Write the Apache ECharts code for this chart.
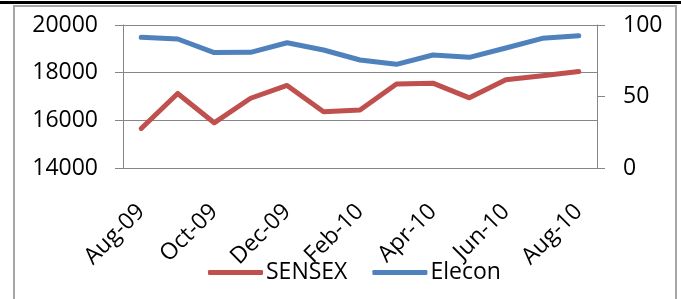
<!DOCTYPE html>
<html>
<head>
<meta charset="utf-8">
<script src="https://cdn.jsdelivr.net/npm/echarts@6/dist/echarts.min.js"></script>
<style>
html,body{margin:0;padding:0;background:#fff;}
#c{width:681px;height:299px;}
</style>
</head>
<body>
<div id="c"></div>
<script>
var categories = ['Aug-09','Sep-09','Oct-09','Nov-09','Dec-09','Jan-10','Feb-10','Mar-10','Apr-10','May-10','Jun-10','Jul-10','Aug-10'];
var sensex = [15660, 17127, 15896, 16926, 17465, 16358, 16430, 17528, 17559, 16945, 17700, 17868, 18050];
var elecon = [91.4, 90.2, 80.7, 80.9, 87.6, 82.5, 75.5, 72.5, 79.0, 77.4, 83.9, 90.7, 92.5];
var leftTicks = {min: 14000, max: 20000, interval: 2000};
var rightTicks = {min: 0, max: 100, interval: 50};

var FONT = 'Open Sans';
var GRAY = '#868686';
var chart = echarts.init(document.getElementById('c'), null, {renderer: 'canvas'});
chart.setOption({
  animation: false,
  backgroundColor: '#fff',
  textStyle: {fontFamily: FONT},
  graphic: [
    {type: 'rect', shape: {x: 0, y: 1, width: 681, height: 3}, style: {fill: '#000'}, z: 100},
    {type: 'rect', shape: {x: 14, y: 6, width: 662, height: 400}, style: {fill: 'none', stroke: '#a6a6a6', lineWidth: 2}, z: 100}
  ],
  grid: {left: 123, right: 84, top: 25, bottom: 131, containLabel: false},
  legend: {
    left: 203, top: 256,
    itemWidth: 55, itemHeight: 5, itemGap: 25,
    icon: 'roundRect',
    textStyle: {fontFamily: FONT, fontSize: 23, color: '#000', padding: [0, 0, 0, -2]},
    data: ['SENSEX', 'Elecon']
  },
  xAxis: {
    type: 'category',
    data: categories,
    boundaryGap: true,
    axisLine: {lineStyle: {color: GRAY, width: 1}},
    axisTick: {interval: 1, length: 8, lineStyle: {color: GRAY}},
    axisLabel: {interval: 1, rotate: 45, margin: 40, fontFamily: FONT, fontSize: 23, color: '#000'},
    splitLine: {show: false}
  },
  yAxis: [
    {
      type: 'value', min: leftTicks.min, max: leftTicks.max, interval: leftTicks.interval,
      axisLine: {show: true, lineStyle: {color: GRAY, width: 1}},
      axisTick: {show: true, length: 8, lineStyle: {color: GRAY}},
      axisLabel: {margin: 25, fontFamily: FONT, fontSize: 23, color: '#000', formatter: function (v) { return String(v); }},
      splitLine: {show: true, lineStyle: {color: GRAY, width: 1}}
    },
    {
      type: 'value', min: rightTicks.min, max: rightTicks.max, interval: rightTicks.interval,
      position: 'right',
      axisLine: {show: true, lineStyle: {color: GRAY, width: 1}},
      axisTick: {show: true, length: 8, lineStyle: {color: GRAY}},
      axisLabel: {margin: 26, fontFamily: FONT, fontSize: 23, color: '#000', formatter: function (v) { return String(v); }},
      splitLine: {show: false}
    }
  ],
  series: [
    {
      name: 'SENSEX', type: 'line', yAxisIndex: 0, data: sensex,
      symbol: 'none', color: '#C0504D',
      lineStyle: {width: 5, color: '#C0504D', cap: 'round', join: 'round'}
    },
    {
      name: 'Elecon', type: 'line', yAxisIndex: 1, data: elecon,
      symbol: 'none', color: '#4F81BD',
      lineStyle: {width: 5, color: '#4F81BD', cap: 'round', join: 'round'}
    }
  ]
});
</script>
</body>
</html>
